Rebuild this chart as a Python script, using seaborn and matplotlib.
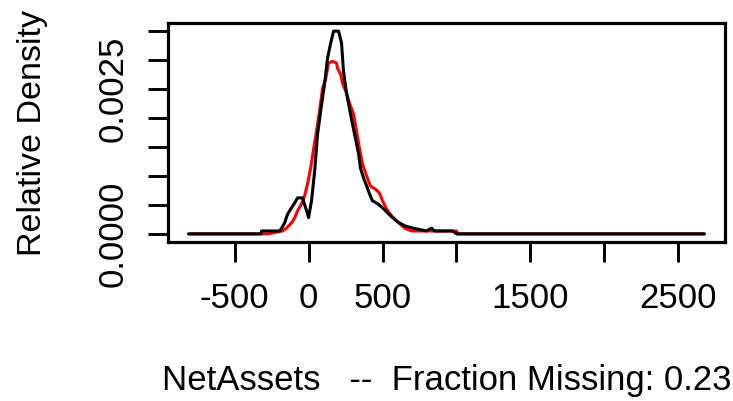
import matplotlib
matplotlib.use("Agg")
import matplotlib.pyplot as plt
import seaborn as sns
import pandas as pd

# Density estimate of NetAssets: observed values (black) vs. imputed (red)
observed_x = [-811, -320, -318, -196, -182, -162, -142, -115, -95, -74, -41, -20, 0,
              20, 41, 61, 88, 108, 128, 149, 169, 203, 223, 236, 257, 277, 297, 318,
              338, 351, 372, 392, 412, 432, 466, 500, 534, 568, 601, 649, 703, 797,
              831, 851, 973, 1000, 2676]
observed_y = [0, 0, 0.00005, 0.00005, 0.0001, 0.00019, 0.00034, 0.00045, 0.00053,
              0.00062, 0.00062, 0.00045, 0.00028, 0.00057, 0.00108, 0.00172, 0.00223,
              0.00258, 0.00302, 0.00328, 0.00349, 0.00349, 0.00328, 0.0028, 0.00242,
              0.00215, 0.00189, 0.00163, 0.00138, 0.00113, 0.00096, 0.00083, 0.00069,
              0.00057, 0.00052, 0.00045, 0.00036, 0.00028, 0.00021, 0.00014, 0.0001,
              0.00005, 0.0001, 0.00005, 0.00005, 0, 0]

imputed_x = [-811, -311, -277, -176, -149, -115, -95, -74, -47, -27, -7, 14, 34, 54,
             74, 95, 115, 135, 162, 189, 196, 216, 230, 257, 277, 304, 324, 345, 365,
             392, 419, 453, 480, 500, 527, 561, 595, 628, 649, 696, 1000, 1010, 2676]
imputed_y = [0, 0, 0, 0.00005, 0.0001, 0.00019, 0.00027, 0.0004, 0.00052, 0.00065,
             0.00086, 0.00113, 0.00146, 0.00177, 0.00211, 0.00251, 0.00266, 0.00294,
             0.00297, 0.00294, 0.00285, 0.00275, 0.00259, 0.00242, 0.00225, 0.00206,
             0.00177, 0.00146, 0.0012, 0.001, 0.00082, 0.00077, 0.0007, 0.00057,
             0.00043, 0.00031, 0.00022, 0.00015, 0.0001, 0.00005, 0.00005, 0, 0]

x_ticks = [-500, 0, 500, 1000, 1500, 2000, 2500]
x_tick_labels = ["-500", "0", "500", "", "1500", "", "2500"]
y_ticks = [0.0, 0.0005, 0.0010, 0.0015, 0.0020, 0.0025, 0.0030, 0.0035]
y_tick_labels = ["0.0000", "", "", "", "", "0.0025", "", ""]

variable = "NetAssets"
fraction_missing = 0.23

sns.set_style("ticks")
plt.rcParams["font.family"] = ["Liberation Sans", "DejaVu Sans"]

fig = plt.figure(figsize=(7.33, 4.01), dpi=100)
ax = fig.add_axes([168 / 733, 1 - 242 / 401, 557 / 733, 219 / 401])

imp = pd.DataFrame({"x": imputed_x, "y": imputed_y})
obs = pd.DataFrame({"x": observed_x, "y": observed_y})
sns.lineplot(data=imp, x="x", y="y", ax=ax, color="#ff0000", linewidth=2.2,
             sort=False, estimator=None)
sns.lineplot(data=obs, x="x", y="y", ax=ax, color="black", linewidth=2.2,
             sort=False, estimator=None)

xmin, xmax = min(observed_x), max(observed_x)
ymax = max(observed_y)
xpad = 0.04 * (xmax - xmin)
ypad = 0.04 * ymax
ax.set_xlim(xmin - xpad, xmax + xpad)
ax.set_ylim(-ypad, ymax + ypad)

ax.set_xticks(x_ticks)
ax.set_xticklabels(x_tick_labels)
ax.set_yticks(y_ticks)
ax.set_yticklabels(y_tick_labels, rotation=90, va="center")

for s in ax.spines.values():
    s.set_visible(True)
    s.set_linewidth(2.3)
    s.set_color("black")

ax.tick_params(axis="both", which="major", length=14.5, width=2.1, color="black",
               labelsize=25, labelcolor="black", direction="out")
ax.tick_params(axis="x", pad=14.5)
ax.tick_params(axis="y", pad=13)

ax.set_xlabel(f"{variable}   --  Fraction Missing: {fraction_missing}", fontsize=25,
              color="black")
ax.set_ylabel("Relative Density", fontsize=24.5, color="black")
ax.xaxis.set_label_coords(0.5, -0.555)
ax.yaxis.set_label_coords(-0.215, 0.5)

fig.savefig("out.png", dpi=100)
